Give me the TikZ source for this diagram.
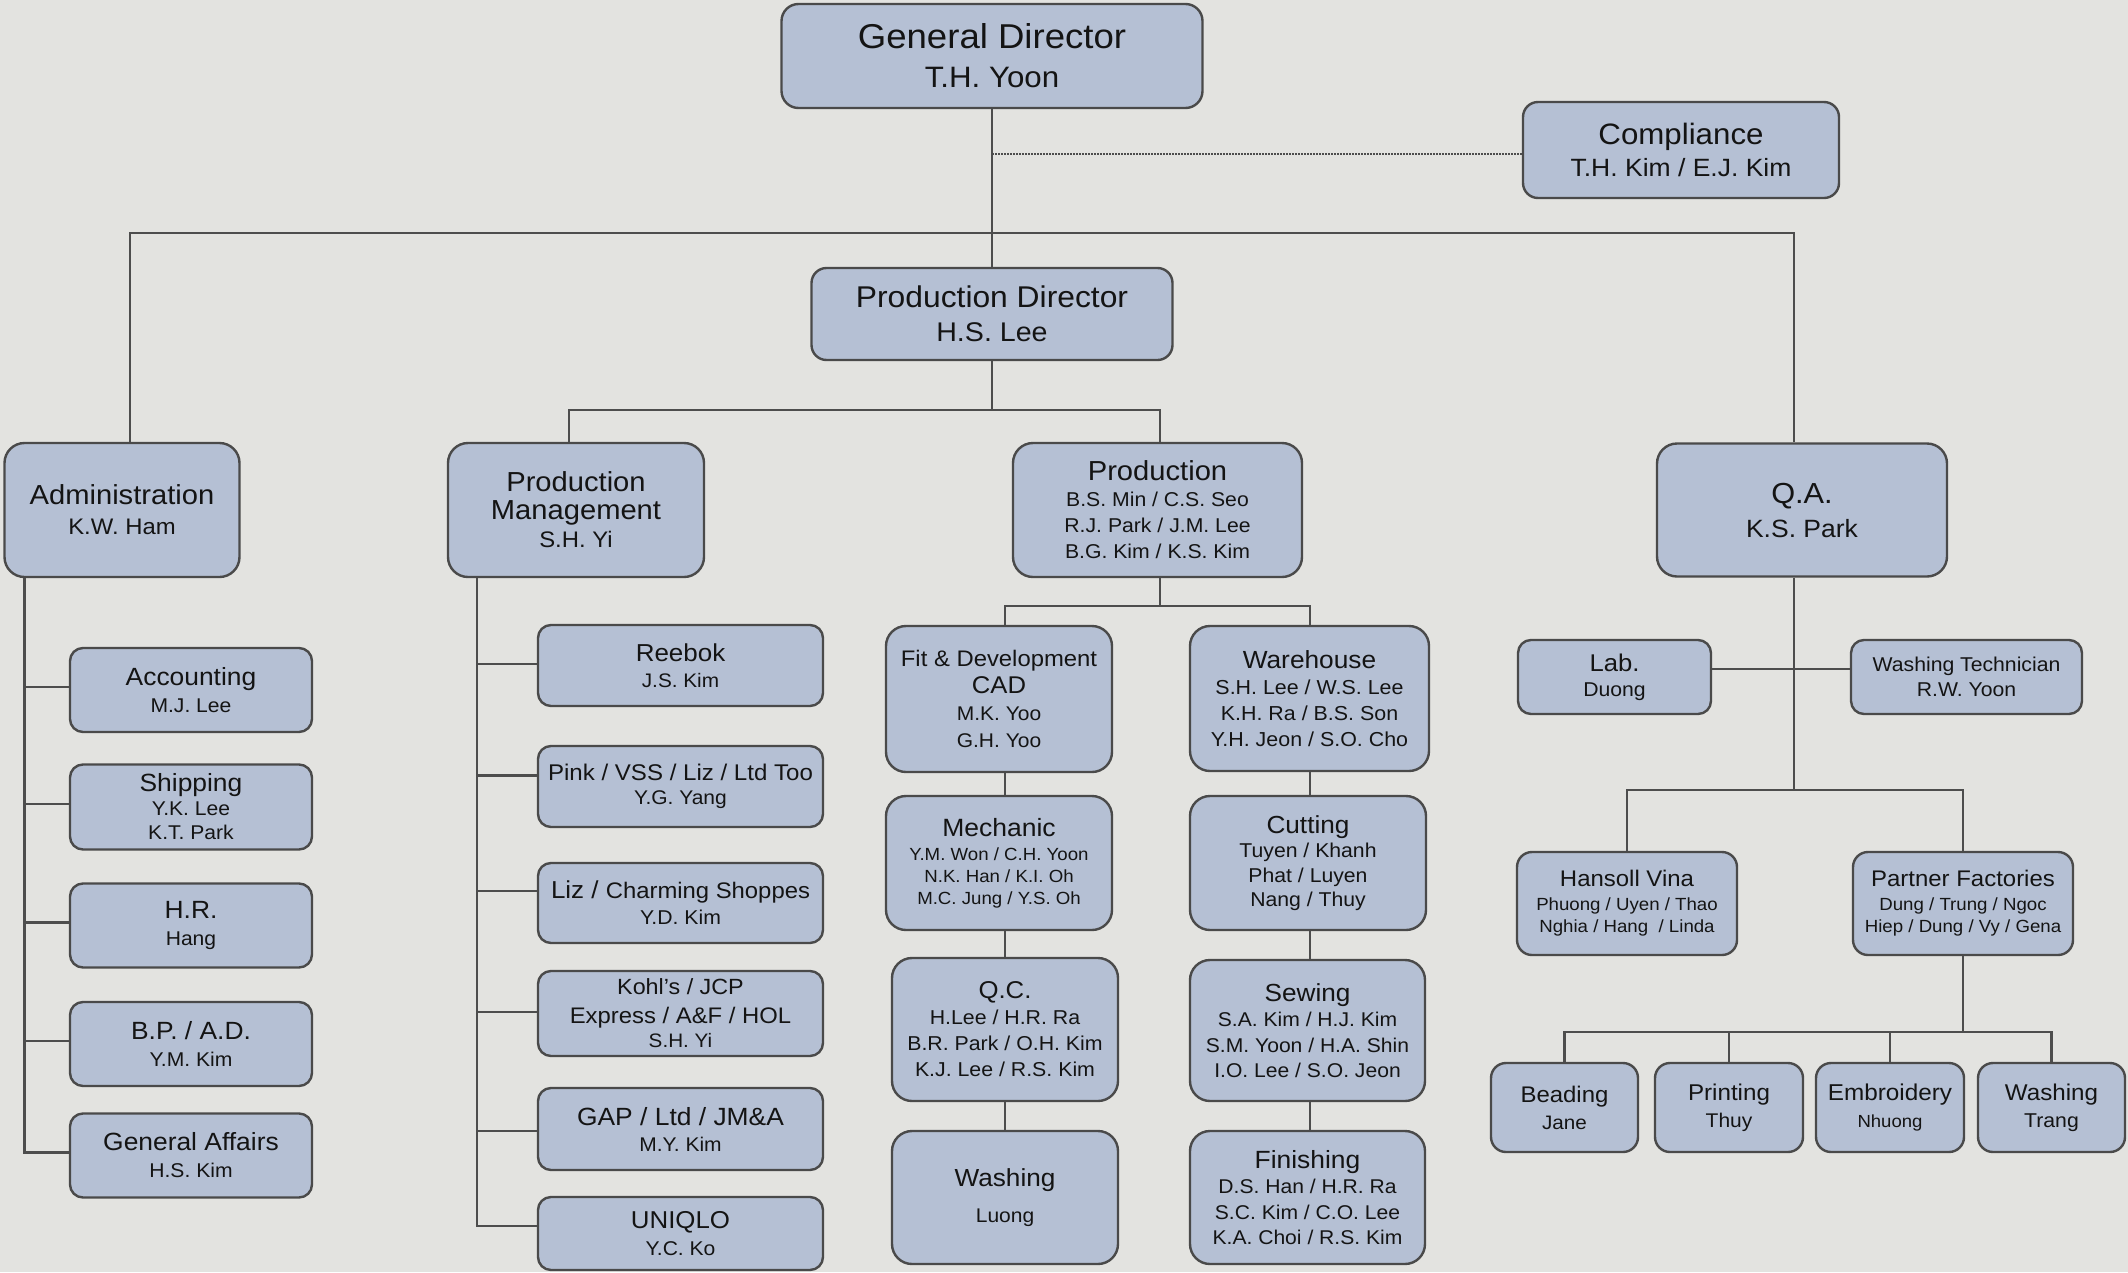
\documentclass[tikz,border=0pt]{standalone}
\usepackage{fontspec}
\setmainfont{Liberation Sans}[FakeStretch=1.06]
\usetikzlibrary{calc}
\definecolor{bgc}{HTML}{E3E3E0}
\definecolor{boxc}{HTML}{B5C0D4}
\definecolor{bordc}{HTML}{4A4A4A}
\definecolor{linec}{HTML}{4D4D4D}
\definecolor{txtc}{HTML}{141414}
\newcommand\Ln[2]{{\fontsize{#1}{#1}\selectfont #2}}
\tikzset{
  box/.style={draw=bordc, fill=boxc, line width=2.4pt, rounded corners=14pt,
    align=center, inner sep=0pt, text=txtc},
  rc/.style={rounded corners=#1pt},
  sz/.style n args={2}{minimum width=#1pt, minimum height=#2pt},
  bs/.style={font=\fontsize{20}{#1}\selectfont},
  conn/.style={draw=linec, line width=2.4pt},
  dotline/.style={draw=linec, line width=1.5pt, dash pattern=on 1.5pt off 1.5pt},
}
\begin{document}
\begin{tikzpicture}[x=1pt, y=-1pt]
\fill[bgc] (0,0) rectangle (2128,1272);
\useasboundingbox (0,0) rectangle (2128,1272);

% ---- top level
\node[box, rc=17, sz={421}{104}, bs=39] (gd) at (992,56)
  {\Ln{34.5}{General Director}\\\Ln{29.5}{T.H. Yoon}};
\node[box, rc=15, sz={316}{96}, bs=32] (comp) at (1681,150)
  {\Ln{29.5}{Compliance}\\\Ln{25}{T.H. Kim / E.J. Kim}};
\node[box, rc=15, sz={361}{92}, bs=34] (pd) at (992,314)
  {\Ln{30}{Production Director}\\\Ln{27}{H.S. Lee}};

\node[box, rc=20, sz={235}{134}, bs=30] (admin) at (122,510)
  {\Ln{27.5}{Administration}\\\Ln{22.5}{K.W. Ham}};
\node[box, rc=20, sz={256}{134}, bs=28] (pm) at (576,510)
  {\Ln{27.5}{Production}\\\Ln{27.5}{Management}\\\Ln{22.5}{S.H. Yi}};
\node[box, rc=20, sz={289}{134}, bs=26] (prod) at (1157.5,510)
  {\Ln{27.5}{Production}\\\Ln{20}{B.S. Min / C.S. Seo}\\\Ln{20}{R.J. Park / J.M. Lee}\\\Ln{20}{B.G. Kim / K.S. Kim}};
\node[box, rc=20, sz={290}{133}, bs=34] (qa) at (1802,510)
  {\Ln{29}{Q.A.}\\\Ln{25}{K.S. Park}};

% ---- administration
\node[box, rc=13, sz={242}{84}, bs=27] (acc) at (191,690)
  {\Ln{24.9}{Accounting}\\\Ln{19.9}{M.J. Lee}};
\node[box, rc=13, sz={242}{85}, bs=24] (ship) at (191,807)
  {\Ln{24.9}{Shipping}\\\Ln{19.9}{Y.K. Lee}\\\Ln{19.9}{K.T. Park}};
\node[box, rc=13, sz={242}{84}, bs=27] (hr) at (191,925.5)
  {\Ln{24.9}{H.R.}\\\Ln{19.9}{Hang}};
\node[box, rc=13, sz={242}{84}, bs=27] (bp) at (191,1044)
  {\Ln{24.9}{B.P. / A.D.}\\\Ln{19.9}{Y.M. Kim}};
\node[box, rc=13, sz={242}{84}, bs=27] (ga) at (191,1155.5)
  {\Ln{24.9}{General Affairs}\\\Ln{19.9}{H.S. Kim}};

% ---- production management
\node[box, rc=13, sz={285}{81}, bs=26] (reebok) at (680.5,665.5)
  {\Ln{24.5}{Reebok}\\\Ln{19.6}{J.S. Kim}};
\node[box, rc=13, sz={285}{81}, bs=24] (pink) at (680.5,786.5)
  {\Ln{22.7}{Pink / VSS / Liz / Ltd Too}\\\Ln{19.8}{Y.G. Yang}};
\node[box, rc=13, sz={285}{80}, bs=26] (liz) at (680.5,903)
  {\Ln{24.5}{Liz / }\Ln{22.5}{Charming Shoppes}\\\Ln{20}{Y.D. Kim}};
\node[box, rc=13, sz={285}{85}, bs=24] (kohls) at (680.5,1013.5)
  {\Ln{22}{Kohl’s / JCP}\\[5pt]\Ln{22.5}{Express / A\&F / HOL}\\\Ln{19.5}{S.H. Yi}};
\node[box, rc=13, sz={285}{82}, bs=26] (gap) at (680.5,1129)
  {\Ln{24.9}{GAP / Ltd / JM\&A}\\\Ln{19.8}{M.Y. Kim}};
\node[box, rc=13, sz={285}{73}, bs=27] (uniq) at (680.5,1233.5)
  {\Ln{24.4}{UNIQLO}\\\Ln{19.9}{Y.C. Ko}};

% ---- production
\node[box, rc=20, sz={226}{146}, bs=27] (fit) at (999,699)
  {\Ln{22.5}{Fit \& Development}\\\Ln{24.2}{CAD}\\\Ln{19.8}{M.K. Yoo}\\\Ln{19.8}{G.H. Yoo}};
\node[box, rc=20, sz={226}{134}, bs=22] (mech) at (999,863)
  {\Ln{25}{Mechanic}\\[2pt]\Ln{17.6}{Y.M. Won / C.H. Yoon}\\\Ln{17.6}{N.K. Han / K.I. Oh}\\\Ln{17.6}{M.C. Jung / Y.S. Oh}};
\node[box, rc=20, sz={226}{143}, bs=26] (qc) at (1005,1029.5)
  {\Ln{24.3}{Q.C.}\\\Ln{20.1}{H.Lee / H.R. Ra}\\\Ln{20.1}{B.R. Park / O.H. Kim}\\\Ln{20.1}{K.J. Lee / R.S. Kim}};
\node[box, rc=20, sz={226}{133}, bs=26] (washa) at (1005,1197.5)
  {\Ln{24.7}{Washing}\\[10pt]\Ln{19.8}{Luong}};
\node[box, rc=20, sz={239}{145}, bs=26] (ware) at (1309.5,698.5)
  {\Ln{24.8}{Warehouse}\\\Ln{20.2}{S.H. Lee / W.S. Lee}\\\Ln{20.2}{K.H. Ra / B.S. Son}\\\Ln{20.2}{Y.H. Jeon / S.O. Cho}};
\node[box, rc=20, sz={236}{134}, bs=24.5] (cut) at (1308,863)
  {\Ln{24.7}{Cutting}\\\Ln{20}{Tuyen / Khanh}\\\Ln{20}{Phat / Luyen}\\\Ln{20}{Nang / Thuy}};
\node[box, rc=20, sz={235}{141}, bs=25.5] (sew) at (1307.5,1030.5)
  {\Ln{24.7}{Sewing}\\\Ln{19.9}{S.A. Kim / H.J. Kim}\\\Ln{19.9}{S.M. Yoon / H.A. Shin}\\\Ln{19.9}{I.O. Lee / S.O. Jeon}};
\node[box, rc=20, sz={235}{133}, bs=25.5] (fin) at (1307.5,1197.5)
  {\Ln{24.9}{Finishing}\\\Ln{19.9}{D.S. Han / H.R. Ra}\\\Ln{19.9}{S.C. Kim / C.O. Lee}\\\Ln{19.9}{K.A. Choi / R.S. Kim}};

% ---- Q.A.
\node[box, rc=13, sz={193}{74}, bs=25] (lab) at (1614.5,677)
  {\Ln{24.2}{Lab.}\\\Ln{20}{Duong}};
\node[box, rc=13, sz={231}{74}, bs=25] (wt) at (1966.5,677)
  {\Ln{20}{Washing Technician}\\\Ln{20}{R.W. Yoon}};
\node[box, rc=15, sz={220}{103}, bs=22] (hans) at (1627,903.5)
  {\Ln{22.6}{Hansoll Vina}\\[2pt]\Ln{17.6}{Phuong / Uyen / Thao}\\\Ln{17.6}{Nghia / Hang\ \ / Linda}};
\node[box, rc=15, sz={220}{103}, bs=22] (part) at (1963,903.5)
  {\Ln{22.6}{Partner Factories}\\[2pt]\Ln{17.6}{Dung / Trung / Ngoc}\\\Ln{17.6}{Hiep / Dung / Vy / Gena}};
\node[box, rc=15, sz={147}{89}, bs=27] (bead) at (1564.5,1107.5)
  {\Ln{22.6}{Beading}\\\Ln{19.5}{Jane}};
\node[box, rc=15, sz={148}{89}, bs=27] (print) at (1729,1107.5)
  {\Ln{22.8}{Printing}\\\Ln{19.8}{Thuy}};
\node[box, rc=15, sz={148}{89}, bs=27] (embr) at (1890,1107.5)
  {\Ln{22.9}{Embroidery}\\\Ln{17.5}{Nhuong}};
\node[box, rc=15, sz={147}{89}, bs=27] (washb) at (2051.5,1107.5)
  {\Ln{22.8}{Washing}\\\Ln{20}{Trang}};

% ---- connectors
\coordinate (J1) at (992,233);
\coordinate (J2) at (992,410);
\coordinate (J3) at (1160,606);
\coordinate (J4) at (1794,790);
\coordinate (J5) at (1963,1032);

\draw[conn] (gd.south) -- (pd.north);
\draw[dotline] ([yshift=-4pt]comp.west) -- ([yshift=-4pt]comp.west -| gd.south);
\draw[conn] ([xshift=8pt]admin.north) |- (J1) -| ([xshift=-8pt]qa.north);
\draw[conn] (pd.south) -- (J2);
\draw[conn] ([xshift=-7pt]pm.north) |- (J2) -| ([xshift=2.5pt]prod.north);

% administration branch
\coordinate (AL) at ([xshift=21pt]admin.south west);
\draw[conn] (AL) |- ([yshift=3pt]ga.west);
\foreach \nd in {acc,ship,hr,bp}
  \draw[conn] ([yshift=3pt]\nd.west) -- ([yshift=3pt]\nd.west -| AL);

% production management branch
\coordinate (PL) at ([xshift=30pt]pm.south west);
\draw[conn] (PL) |- ([yshift=7.5pt]uniq.west);
\foreach \nd/\sh in {reebok/1.5, pink/11, liz/12, kohls/1.5, gap/-2}
  \draw[conn] ([yshift=\sh pt]\nd.west) -- ([yshift=\sh pt]\nd.west -| PL);

% production branch
\draw[conn] ([xshift=2.5pt]prod.south) -- (J3);
\draw[conn] (qc.north |- fit.north) |- (J3) -| ([xshift=0.5pt]ware.north);
\draw[conn] (qc.north |- fit.south) -- (qc.north |- mech.north);
\draw[conn] (qc.north |- mech.south) -- (qc.north);
\draw[conn] (qc.south) -- (washa.north);
\draw[conn] ([xshift=0.5pt]ware.south) -- ([xshift=0.5pt]ware.south |- cut.north);
\draw[conn] ([xshift=0.5pt]ware.south |- cut.south) -- ([xshift=0.5pt]ware.south |- sew.north);
\draw[conn] ([xshift=0.5pt]ware.south |- sew.south) -- ([xshift=0.5pt]ware.south |- fin.north);

% Q.A. branch
\draw[conn] ([xshift=-8pt]qa.south) -- (J4);
\draw[conn] ([yshift=8pt]lab.east) -- ([yshift=8pt]wt.west);
\draw[conn] (hans.north) |- (J4) -| (part.north);
\draw[conn] (part.south) -- (J5);
\draw[conn] (bead.north) |- (J5) -| (washb.north);
\draw[conn] (print.north) -- (print.north |- J5);
\draw[conn] (embr.north) -- (embr.north |- J5);
\end{tikzpicture}
\end{document}
